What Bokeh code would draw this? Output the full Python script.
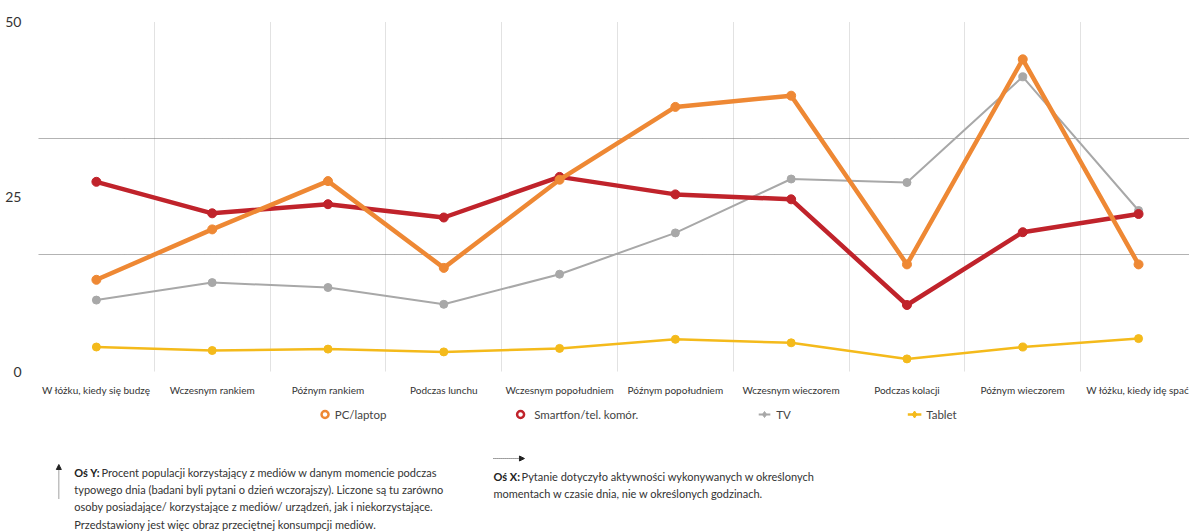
from bokeh.plotting import figure
from bokeh.models import Range1d, FixedTicker, Arrow, NormalHead
from bokeh.layouts import column
from bokeh.core.properties import value
from bokeh.embed import file_html
from bokeh.resources import INLINE

categories = ["W łóżku, kiedy się budzę", "Wczesnym rankiem", "Późnym rankiem", "Podczas lunchu",
              "Wczesnym popołudniem", "Późnym popołudniem", "Wczesnym wieczorem", "Podczas kolacji",
              "Późnym wieczorem", "W łóżku, kiedy idę spać"]
pc_laptop = [13.1, 20.3, 27.2, 14.8, 27.4, 37.8, 39.4, 15.3, 44.6, 15.3]
smartfon = [27.1, 22.6, 23.9, 22.0, 27.8, 25.3, 24.6, 9.5, 19.9, 22.5]
tv = [10.2, 12.7, 12.0, 9.6, 13.9, 19.8, 27.5, 27.0, 42.1, 23.0]
tablet = [3.5, 3.0, 3.2, 2.8, 3.3, 4.6, 4.1, 1.8, 3.5, 4.7]
y_ticks = [0, 25, 50]

series_names = ["PC/laptop", "Smartfon/tel. komór.", "TV", "Tablet"]

C_PC = "#EE8834"
C_SM = "#C0232B"
C_TV = "#A8A8A8"
C_TB = "#F4BA1B"
FONT = "Lato"

xs = list(range(len(categories)))

p = figure(width=1189, height=398, x_range=Range1d(-0.5, 9.44), y_range=Range1d(0, 50),
           output_backend="svg", toolbar_location=None, title=None,
           min_border_left=38, min_border_right=0, min_border_top=21, min_border_bottom=23)
p.outline_line_color = None
p.background_fill_color = "white"
p.border_fill_color = "white"

# lines (tablet bottom, PC on top)
p.line(xs, tablet, line_color=C_TB, line_width=2.5)
p.scatter(xs, tablet, size=8, fill_color=C_TB, line_color=C_TB)
p.line(xs, tv, line_color=C_TV, line_width=2)
p.scatter(xs, tv, size=8, fill_color=C_TV, line_color=C_TV)
p.line(xs, smartfon, line_color=C_SM, line_width=4.5)
p.scatter(xs, smartfon, size=9, fill_color=C_SM, line_color=C_SM)
p.line(xs, pc_laptop, line_color=C_PC, line_width=4.5)
p.scatter(xs, pc_laptop, size=9, fill_color=C_PC, line_color=C_PC)

# axes
p.xaxis.ticker = FixedTicker(ticks=xs)
p.xaxis.major_label_overrides = {i: c for i, c in enumerate(categories)}
p.xaxis.axis_line_color = None
p.xaxis.major_tick_line_color = None
p.xaxis.minor_tick_line_color = None
p.xaxis.major_label_standoff = 6
p.xaxis.major_label_text_font = FONT
p.xaxis.major_label_text_font_size = "10px"
p.xaxis.major_label_text_color = "#333333"

p.yaxis.ticker = FixedTicker(ticks=y_ticks)
p.yaxis.axis_line_color = None
p.yaxis.major_tick_line_color = None
p.yaxis.minor_tick_line_color = None
p.yaxis.major_label_standoff = 11
p.yaxis.major_label_text_font = FONT
p.yaxis.major_label_text_font_size = "14px"
p.yaxis.major_label_text_color = "#333333"

p.xgrid.ticker = FixedTicker(ticks=[i + 0.5 for i in range(len(categories))])
p.xgrid.grid_line_color = "#c4c4c4"
p.xgrid.grid_line_dash = "1 1"
p.xgrid.grid_line_width = 1
p.ygrid.ticker = FixedTicker(ticks=[50 / 3, 100 / 3])
p.ygrid.grid_line_color = "#666666"
p.ygrid.grid_line_dash = "1 1"
p.ygrid.grid_line_width = 1

# lower panel: legend and notes (pixel-like coordinates, y downward)
q = figure(width=1189, height=133, x_range=Range1d(0, 1189), y_range=Range1d(133, 0),
           output_backend="svg", toolbar_location=None, title=None,
           x_axis_type=None, y_axis_type=None, min_border=0)
q.outline_line_color = None
q.grid.visible = False
q.border_fill_color = "white"

ly = 16
# PC legend
q.scatter([296], [ly], size=7, fill_color="white", line_color=C_PC, line_width=2.5)
q.text([306], [ly], text=[series_names[0]], text_font=value(FONT), text_font_size="11.5px",
       text_color="#444444", text_baseline="middle")
# Smartfon legend
q.scatter([498], [ly], size=7, fill_color="white", line_color=C_SM, line_width=2.5)
q.text([512], [ly], text=[series_names[1]], text_font=value(FONT), text_font_size="11.5px",
       text_color="#444444", text_baseline="middle")
# TV legend
q.segment([744], [ly], [756], [ly], line_color=C_TV, line_width=2)
q.scatter([750], [ly], size=6, marker="diamond", fill_color=C_TV, line_color=C_TV)
q.text([762], [ly], text=[series_names[2]], text_font=value(FONT), text_font_size="11.5px",
       text_color="#444444", text_baseline="middle")
# Tablet legend
q.segment([898], [ly], [912], [ly], line_color=C_TB, line_width=2.5)
q.scatter([905], [ly], size=7, marker="diamond", fill_color=C_TB, line_color=C_TB)
q.text([917], [ly], text=[series_names[3]], text_font=value(FONT), text_font_size="11.5px",
       text_color="#444444", text_baseline="middle")

# notes
y_note_bold = "Oś Y:"
y_note_lines = ["Procent populacji korzystający z mediów w danym momencie podczas",
                "typowego dnia (badani byli pytani o dzień wczorajszy). Liczone są tu zarówno",
                "osoby posiadające/ korzystające z mediów/ urządzeń, jak i niekorzystające.",
                "Przedstawiony jest więc obraz przeciętnej konsumpcji mediów."]
x_note_bold = "Oś X:"
x_note_lines = ["Pytanie dotyczyło aktywności wykonywanych w określonych",
                "momentach w czasie dnia, nie w określonych godzinach."]

ny0 = 74
step = 17.2
q.text([37], [ny0], text=[y_note_bold], text_font=value(FONT), text_font_size="11px",
       text_font_style="bold", text_color="#222222", text_baseline="middle")
q.text([65], [ny0], text=[y_note_lines[0]], text_font=value(FONT), text_font_size="11px",
       text_color="#333333", text_baseline="middle")
q.text([37] * 3, [ny0 + step * (i + 1) for i in range(3)], text=y_note_lines[1:],
       text_font=value(FONT), text_font_size="11px", text_color="#333333", text_baseline="middle")

nx0 = 78
q.text([470], [nx0], text=[x_note_bold], text_font=value(FONT), text_font_size="11px",
       text_font_style="bold", text_color="#222222", text_baseline="middle")
q.text([499], [nx0], text=[x_note_lines[0]], text_font=value(FONT), text_font_size="11px",
       text_color="#333333", text_baseline="middle")
q.text([470], [nx0 + step], text=[x_note_lines[1]], text_font=value(FONT), text_font_size="11px",
       text_color="#333333", text_baseline="middle")

# arrows
q.add_layout(Arrow(end=NormalHead(size=5, fill_color="#222222", line_color="#222222"),
                   x_start=21, y_start=100, x_end=21, y_end=66,
                   line_color="#444444", line_width=1, line_dash="1 1"))
q.add_layout(Arrow(end=NormalHead(size=5, fill_color="#222222", line_color="#222222"),
                   x_start=470, y_start=60, x_end=502, y_end=60,
                   line_color="#444444", line_width=1, line_dash="1 1"))

layout = column(p, q, spacing=0)
open("out.html", "w").write(file_html(layout, INLINE))
